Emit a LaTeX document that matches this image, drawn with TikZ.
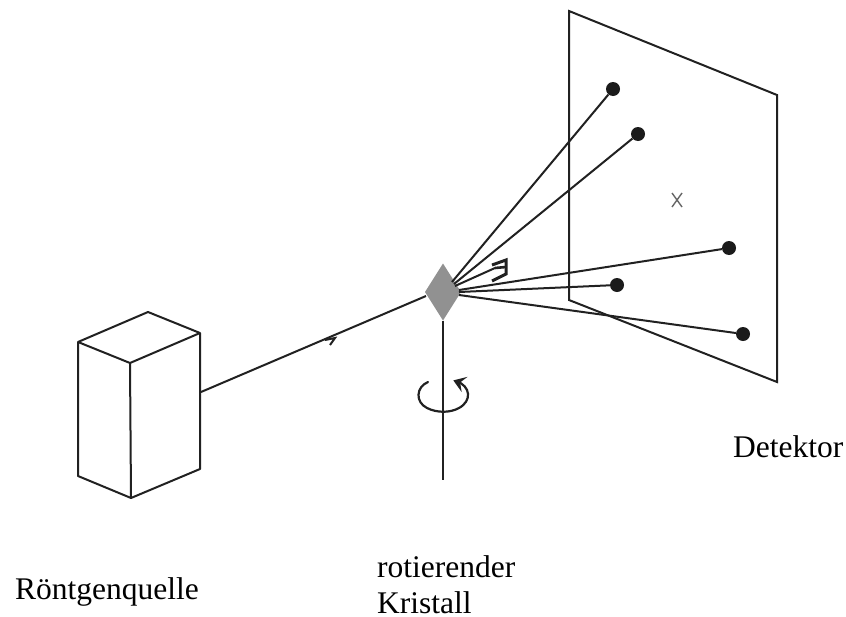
\documentclass[tikz,border=0pt]{standalone}
\usepackage{fontspec}
\setmainfont{Liberation Serif}
\usetikzlibrary{shapes.geometric}
\definecolor{ink}{gray}{0.13}
\tikzset{
  ln/.style={draw=ink,line width=2pt},
  ray/.style={draw=ink,line width=2pt},
  spot/.style={circle,fill=ink!80!black,inner sep=0pt,minimum size=14pt},
  lab/.style={font=\fontsize{31.5pt}{37pt}\selectfont,inner sep=0pt,anchor=base west,text=black}
}
\begin{document}
\begin{tikzpicture}[x=1pt,y=-1pt]
\useasboundingbox (0,0) rectangle (846,616);
% detector
\draw[ln,line join=miter] (569,11) -- (777,95) -- (777,382) -- (569,300) -- cycle;
% source box
\coordinate (bA) at (78,342);
\coordinate (bB) at (130,363);
\coordinate (bC) at (200,333);
\coordinate (bD) at (148,312);
\coordinate (bE) at (131,498);
\coordinate (bF) at (78,476);
\coordinate (bG) at (200,469);
\draw[ln,line join=round] (bA) -- (bD) -- (bC) -- (bB) -- cycle;
\draw[ln,line join=round] (bA) -- (bF) -- (bE) -- (bG) -- (bC);
\draw[ln] (bB) -- (bE);
% crystal
\node[diamond,fill=black!43,inner sep=0pt,outer sep=0pt,minimum width=36pt,minimum height=57pt,aspect=0.63] (kr) at (443,292) {};
% spots
\node[spot] (s1) at (613,89) {};
\node[spot] (s2) at (638,134) {};
\node[spot] (s3) at (729,248) {};
\node[spot] (s4) at (617,285) {};
\node[spot] (s5) at (743,334) {};
\coordinate (beamStart) at (201,392);
\coordinate (beamEnd) at (426,296);
\draw[ray] (beamStart) -- (beamEnd);
\draw[ray] (452,282) -- (s1);
\draw[ray] (454,284) -- (s2);
\draw[ray] (459,290) -- (s3);
\draw[ray] (459,292) -- (s4);
\draw[ray] (459,295) -- (s5);
% short ray with omega
\coordinate (w) at (495,268);
\draw[ray] (455,286) -- (w);
\draw[draw=ink,line width=3pt,line join=miter] (492,265) -- (506,260) -- (506,274) -- (492,281);
\draw[draw=ink,line width=2.6pt] (w) -- (506,267);
% beam arrow mark
\draw[draw=ink,line width=2pt,line join=miter] (325,340) -- (335,338) -- (330,345);
% axis
\coordinate (axEnd) at (443,480);
\draw[ray] (kr.south) -- (axEnd);
% rotation
\draw[draw=ink,line width=2.2pt,line cap=round] (428,382) .. controls (416,387) and (415,402) .. (427,408) .. controls (437,413) and (450,413) .. (459,408) .. controls (472,401) and (471,386) .. (456,381);
\draw[draw=ink,line width=2pt,line join=miter,fill=ink] (463,379) -- (455,381) -- (460,388) -- (459,382) -- cycle;
% centre mark
\draw[draw=black!60,line width=1.4pt] (672,193) -- (682,207);
\draw[draw=black!60,line width=1.4pt] (682,193) -- (672,207);
% labels
\node[lab] (l1) at (733,457) {Detektor};
\node[lab] (l2) at (15,599) {Röntgenquelle};
\node[lab] (l3) at (377,577) {rotierender};
\node[lab] (l4) at (377,613) {Kristall};
\end{tikzpicture}
\end{document}
